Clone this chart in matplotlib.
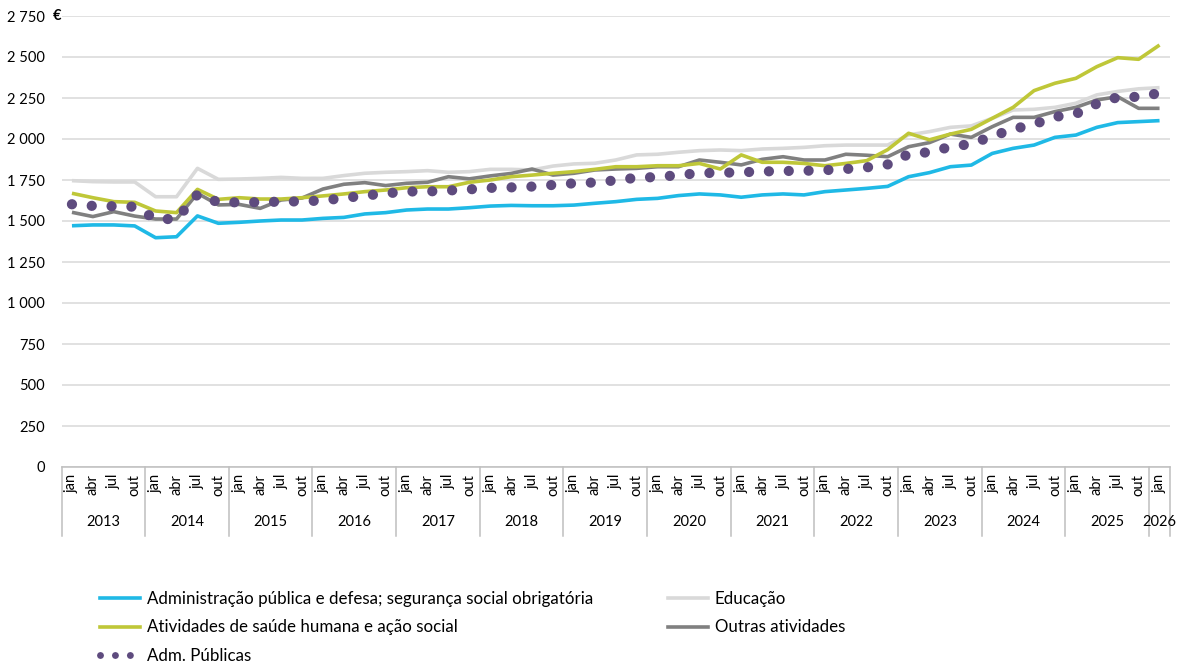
import matplotlib
matplotlib.use('Agg')
import matplotlib.pyplot as plt
from matplotlib.lines import Line2D
import matplotlib.transforms as mtransforms

# ---- data ----
month_names = ['jan', 'abr', 'jul', 'out']
year_list = list(range(2013, 2027))
quarters = [m for y in range(2013, 2026) for m in month_names] + ['jan']
quarter_years = [y for y in range(2013, 2026) for m in month_names] + [2026]

adm_defesa = [1471, 1476, 1476, 1470, 1398, 1404, 1531, 1486,
              1492, 1500, 1506, 1506, 1516, 1522, 1543, 1551,
              1567, 1573, 1573, 1581, 1591, 1595, 1593, 1593,
              1597, 1608, 1618, 1632, 1638, 1655, 1665, 1659,
              1645, 1659, 1665, 1659, 1679, 1689, 1699, 1711,
              1770, 1795, 1831, 1841, 1912, 1943, 1963, 2010,
              2024, 2071, 2100, 2106, 2112]
educacao = [1746, 1740, 1738, 1738, 1648, 1648, 1821, 1754,
            1756, 1760, 1766, 1760, 1760, 1777, 1791, 1797,
            1801, 1807, 1797, 1801, 1815, 1815, 1811, 1835,
            1848, 1852, 1872, 1903, 1907, 1919, 1929, 1933,
            1929, 1939, 1943, 1949, 1959, 1963, 1963, 1963,
            2025, 2045, 2071, 2080, 2126, 2177, 2181, 2193,
            2218, 2269, 2290, 2306, 2313]
saude = [1669, 1642, 1618, 1614, 1561, 1551, 1693, 1632,
         1642, 1634, 1634, 1642, 1653, 1665, 1679, 1689,
         1703, 1709, 1709, 1736, 1750, 1770, 1780, 1791,
         1801, 1815, 1831, 1831, 1837, 1837, 1851, 1817,
         1903, 1858, 1858, 1851, 1837, 1851, 1868, 1935,
         2035, 1995, 2030, 2059, 2126, 2193, 2295, 2340,
         2370, 2441, 2496, 2486, 2573]
outras = [1553, 1527, 1557, 1530, 1512, 1512, 1669, 1598,
          1601, 1577, 1628, 1640, 1695, 1724, 1734, 1716,
          1730, 1736, 1770, 1757, 1775, 1790, 1817, 1780,
          1791, 1811, 1817, 1821, 1831, 1831, 1872, 1858,
          1842, 1876, 1892, 1872, 1872, 1907, 1901, 1892,
          1953, 1978, 2030, 2010, 2075, 2132, 2132, 2167,
          2193, 2238, 2258, 2187, 2187]
adm_publicas = [1602, 1592, 1590, 1587, 1512, 1512, 1662, 1614,
                1614, 1615, 1618, 1620, 1625, 1640, 1655, 1668,
                1680, 1680, 1686, 1693, 1702, 1705, 1710, 1720,
                1730, 1735, 1748, 1764, 1768, 1780, 1792, 1794,
                1797, 1802, 1805, 1806, 1810, 1817, 1827, 1845,
                1908, 1920, 1952, 1970, 2017, 2060, 2090, 2135,
                2153, 2215, 2255, 2257, 2280]

labels = ['Administração pública e defesa; segurança social obrigatória',
          'Educação',
          'Atividades de saúde humana e ação social',
          'Outras atividades',
          'Adm. Públicas']
colors = ['#1FB9E6', '#D9D9D9', '#BFC738', '#808080', '#5E4B7E']
yticks = list(range(0, 2751, 250))

# ---- figure ----
plt.rcParams['font.family'] = ['Lato', 'DejaVu Sans']
W, H = 1179, 666
fig = plt.figure(figsize=(W / 100, H / 100), dpi=100)
left_px, right_px, top_px, bot_px = 61.5, 1170, 16, 467
ax = fig.add_axes([left_px / W, 1 - bot_px / H, (right_px - left_px) / W, (bot_px - top_px) / H])

x = list(range(len(quarters)))
series = [adm_defesa, educacao, saude, outras]
for vals, lab, col, z in zip(series, labels[:4], colors[:4], [3, 2, 4, 3.5]):
    ax.plot(x, vals, color=col, lw=2.6, solid_joinstyle='round',
            solid_capstyle='butt', label=lab, zorder=z)
ax.plot(x, adm_publicas, color=colors[4], lw=7.4, linestyle=(0, (0.001, 1.93)),
        dash_capstyle='round', label=labels[4], zorder=6)

ax.set_xlim(-0.5, len(x) - 0.5)
ax.set_ylim(0, 2750)
ax.set_yticks(yticks)
ax.set_yticklabels([f'{v:,}'.replace(',', ' ') for v in yticks])
ax.grid(axis='y', color='#D9D9D9', lw=1.1)
ax.set_axisbelow(True)
for s in ['top', 'right', 'left']:
    ax.spines[s].set_visible(False)
ax.spines['bottom'].set_color('#BFBFBF')
ax.spines['bottom'].set_linewidth(1.1)
ax.tick_params(axis='y', length=0, pad=12, labelsize=10.5, labelcolor='#000000')
ax.set_xticks(x)
ax.set_xticklabels(quarters, rotation=90)
ax.tick_params(axis='x', length=0, pad=5, labelsize=10.5)

# multi-level category axis
trans = mtransforms.blended_transform_factory(ax.transData, ax.transAxes)
starts = [i for i, q in enumerate(quarters) if q == 'jan']
bounds = [s - 0.5 for s in starts] + [len(quarters) - 0.5]
for b in bounds:
    ax.plot([b, b], [0, -0.153], transform=trans, clip_on=False,
            color='#BFBFBF', lw=1.1)
for k, yr in enumerate(year_list):
    idx = [i for i, yy in enumerate(quarter_years) if yy == yr]
    cx = (idx[0] + idx[-1]) / 2
    ax.text(cx, -0.122, str(yr), transform=trans, ha='center', va='center',
            fontsize=10.5)

fig.text(57 / W, 1 - 16 / H, '€', ha='center', va='center', fontsize=10.5,
         fontweight='bold')

# legend
handles = [Line2D([], [], color=colors[0], lw=2.6),
           Line2D([], [], color=colors[2], lw=2.6),
           Line2D([], [], color=colors[4], lw=5, linestyle=(0, (0.001, 2.15)),
                  dash_capstyle='round'),
           Line2D([], [], color=colors[1], lw=2.6),
           Line2D([], [], color=colors[3], lw=2.6)]
leg_labels = [labels[0], labels[2], labels[4], labels[1], labels[3]]
fig.legend(handles, leg_labels, loc='upper left',
           bbox_to_anchor=(100 / W, 1 - 591 / H), ncol=2, frameon=False,
           fontsize=12.15, handlelength=2.37, handletextpad=0.42,
           labelspacing=0.74, columnspacing=4.4, borderpad=0, borderaxespad=0)

fig.savefig('out.png', dpi=100)
